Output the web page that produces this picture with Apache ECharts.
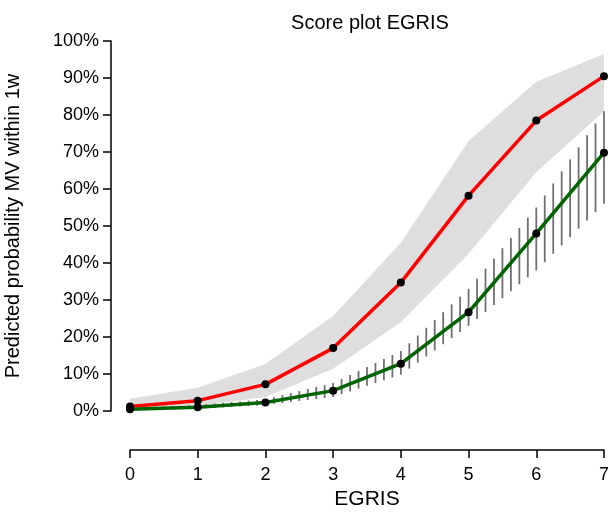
<!DOCTYPE html>
<html>
<head>
<meta charset="UTF-8">
<style>html,body{margin:0;background:#fff}#c{width:610px;height:514px}</style>
</head>
<body>
<div id="c"></div>
<script src="https://cdn.jsdelivr.net/npm/echarts@6/dist/echarts.min.js"></script>
<script>
// EGRIS score values
const egris = [0, 1, 2, 3, 4, 5, 6, 7];
// red curve and its grey band (%)
const redProb = [1.2, 2.8, 7.2, 17, 34.7, 58.2, 78.5, 90.5];
const redLow = [0.3, 1.3, 3.8, 11.4, 24, 42.5, 64.5, 81];
const redHigh = [3.3, 6.3, 12.7, 25.7, 45.5, 73, 89, 96.5];
// green curve and its hatched band (%)
const greenProb = [0.5, 1, 2.3, 5.5, 12.8, 26.7, 48, 69.8];
const greenLow = [0.2, 0.6, 1.6, 3.8, 9.8, 23, 38, 56];
const greenHigh = [0.9, 1.6, 3.2, 7.6, 16.2, 33, 55, 81];
const yTicks = [0, 10, 20, 30, 40, 50, 60, 70, 80, 90, 100];

const chart = echarts.init(document.getElementById('c'));
const font = 'Liberation Sans, Arial, sans-serif';

function bandPoints(api, low, high) {
    const up = egris.map((x, i) => api.coord([x, high[i]]));
    const dn = egris.map((x, i) => api.coord([x, low[i]]));
    return { up, dn };
}
function interp(pts, px) {
    for (let i = 0; i < pts.length - 1; i++) {
        if (px >= pts[i][0] && px <= pts[i + 1][0]) {
            const t = (px - pts[i][0]) / (pts[i + 1][0] - pts[i][0]);
            return pts[i][1] + t * (pts[i + 1][1] - pts[i][1]);
        }
    }
    return null;
}

chart.setOption({
    animation: false,
    title: {
        text: 'Score plot EGRIS', left: 365, top: 8, textAlign: 'center',
        textStyle: { fontFamily: font, fontSize: 20, fontWeight: 'normal', color: '#000' }
    },
    grid: { left: 130, right: 6, top: 41, bottom: 103, outerBoundsMode: 'none', containLabel: false },
    xAxis: {
        type: 'value', min: 0, max: 7, interval: 1, offset: 39,
        name: 'EGRIS', nameLocation: 'middle', nameGap: 38,
        nameTextStyle: { fontFamily: font, fontSize: 21, color: '#000' },
        axisLine: { onZero: false, lineStyle: { color: '#000', width: 1.5 } },
        axisTick: { length: 8, inside: false, lineStyle: { color: '#000', width: 1.5 } },
        axisLabel: { fontFamily: font, fontSize: 18, color: '#000', margin: 16 },
        splitLine: { show: false }
    },
    yAxis: {
        type: 'value', min: 0, max: 100, interval: 10, offset: 19,
        name: 'Predicted probability MV within 1w', nameLocation: 'middle', nameGap: 88,
        nameTextStyle: { fontFamily: font, fontSize: 20, color: '#000' },
        axisLine: { show: true, onZero: false, lineStyle: { color: '#000', width: 1.5 } },
        axisTick: { show: true, length: 8, lineStyle: { color: '#000', width: 1.5 } },
        axisLabel: {
            fontFamily: font, fontSize: 18, color: '#000', margin: 12,
            formatter: v => yTicks.includes(v) ? v + '%' : ''
        },
        splitLine: { show: false }
    },
    series: [
        {
            type: 'custom', data: [0], z: 1,
            renderItem: (params, api) => {
                const { up, dn } = bandPoints(api, redLow, redHigh);
                return { type: 'polygon', shape: { points: up.concat(dn.slice().reverse()) }, style: { fill: '#dedede' } };
            }
        },
        {
            type: 'custom', data: [0], z: 2,
            renderItem: (params, api) => {
                const { up, dn } = bandPoints(api, greenLow, greenHigh);
                const x0 = up[0][0], x1 = up[up.length - 1][0];
                const step = (x1 - x0) / 56;
                const children = [];
                for (let px = x0 + step; px <= x1 + 0.5; px += step) {
                    const yt = interp(up, Math.min(px, x1)), yb = interp(dn, Math.min(px, x1));
                    if (yt === null || yb - yt < 2) continue;
                    children.push({ type: 'line', shape: { x1: px, y1: yt, x2: px, y2: yb }, style: { stroke: '#707070', lineWidth: 1.8 } });
                }
                return { type: 'group', children };
            }
        },
        {
            type: 'line', z: 3, data: egris.map((x, i) => [x, redProb[i]]),
            lineStyle: { color: '#ff0000', width: 3.5 },
            symbol: 'circle', symbolSize: 8, itemStyle: { color: '#000' }
        },
        {
            type: 'line', z: 3, data: egris.map((x, i) => [x, greenProb[i]]),
            lineStyle: { color: '#006400', width: 3.5 },
            symbol: 'circle', symbolSize: 8, itemStyle: { color: '#000' }
        }
    ]
});
</script>
</body>
</html>
